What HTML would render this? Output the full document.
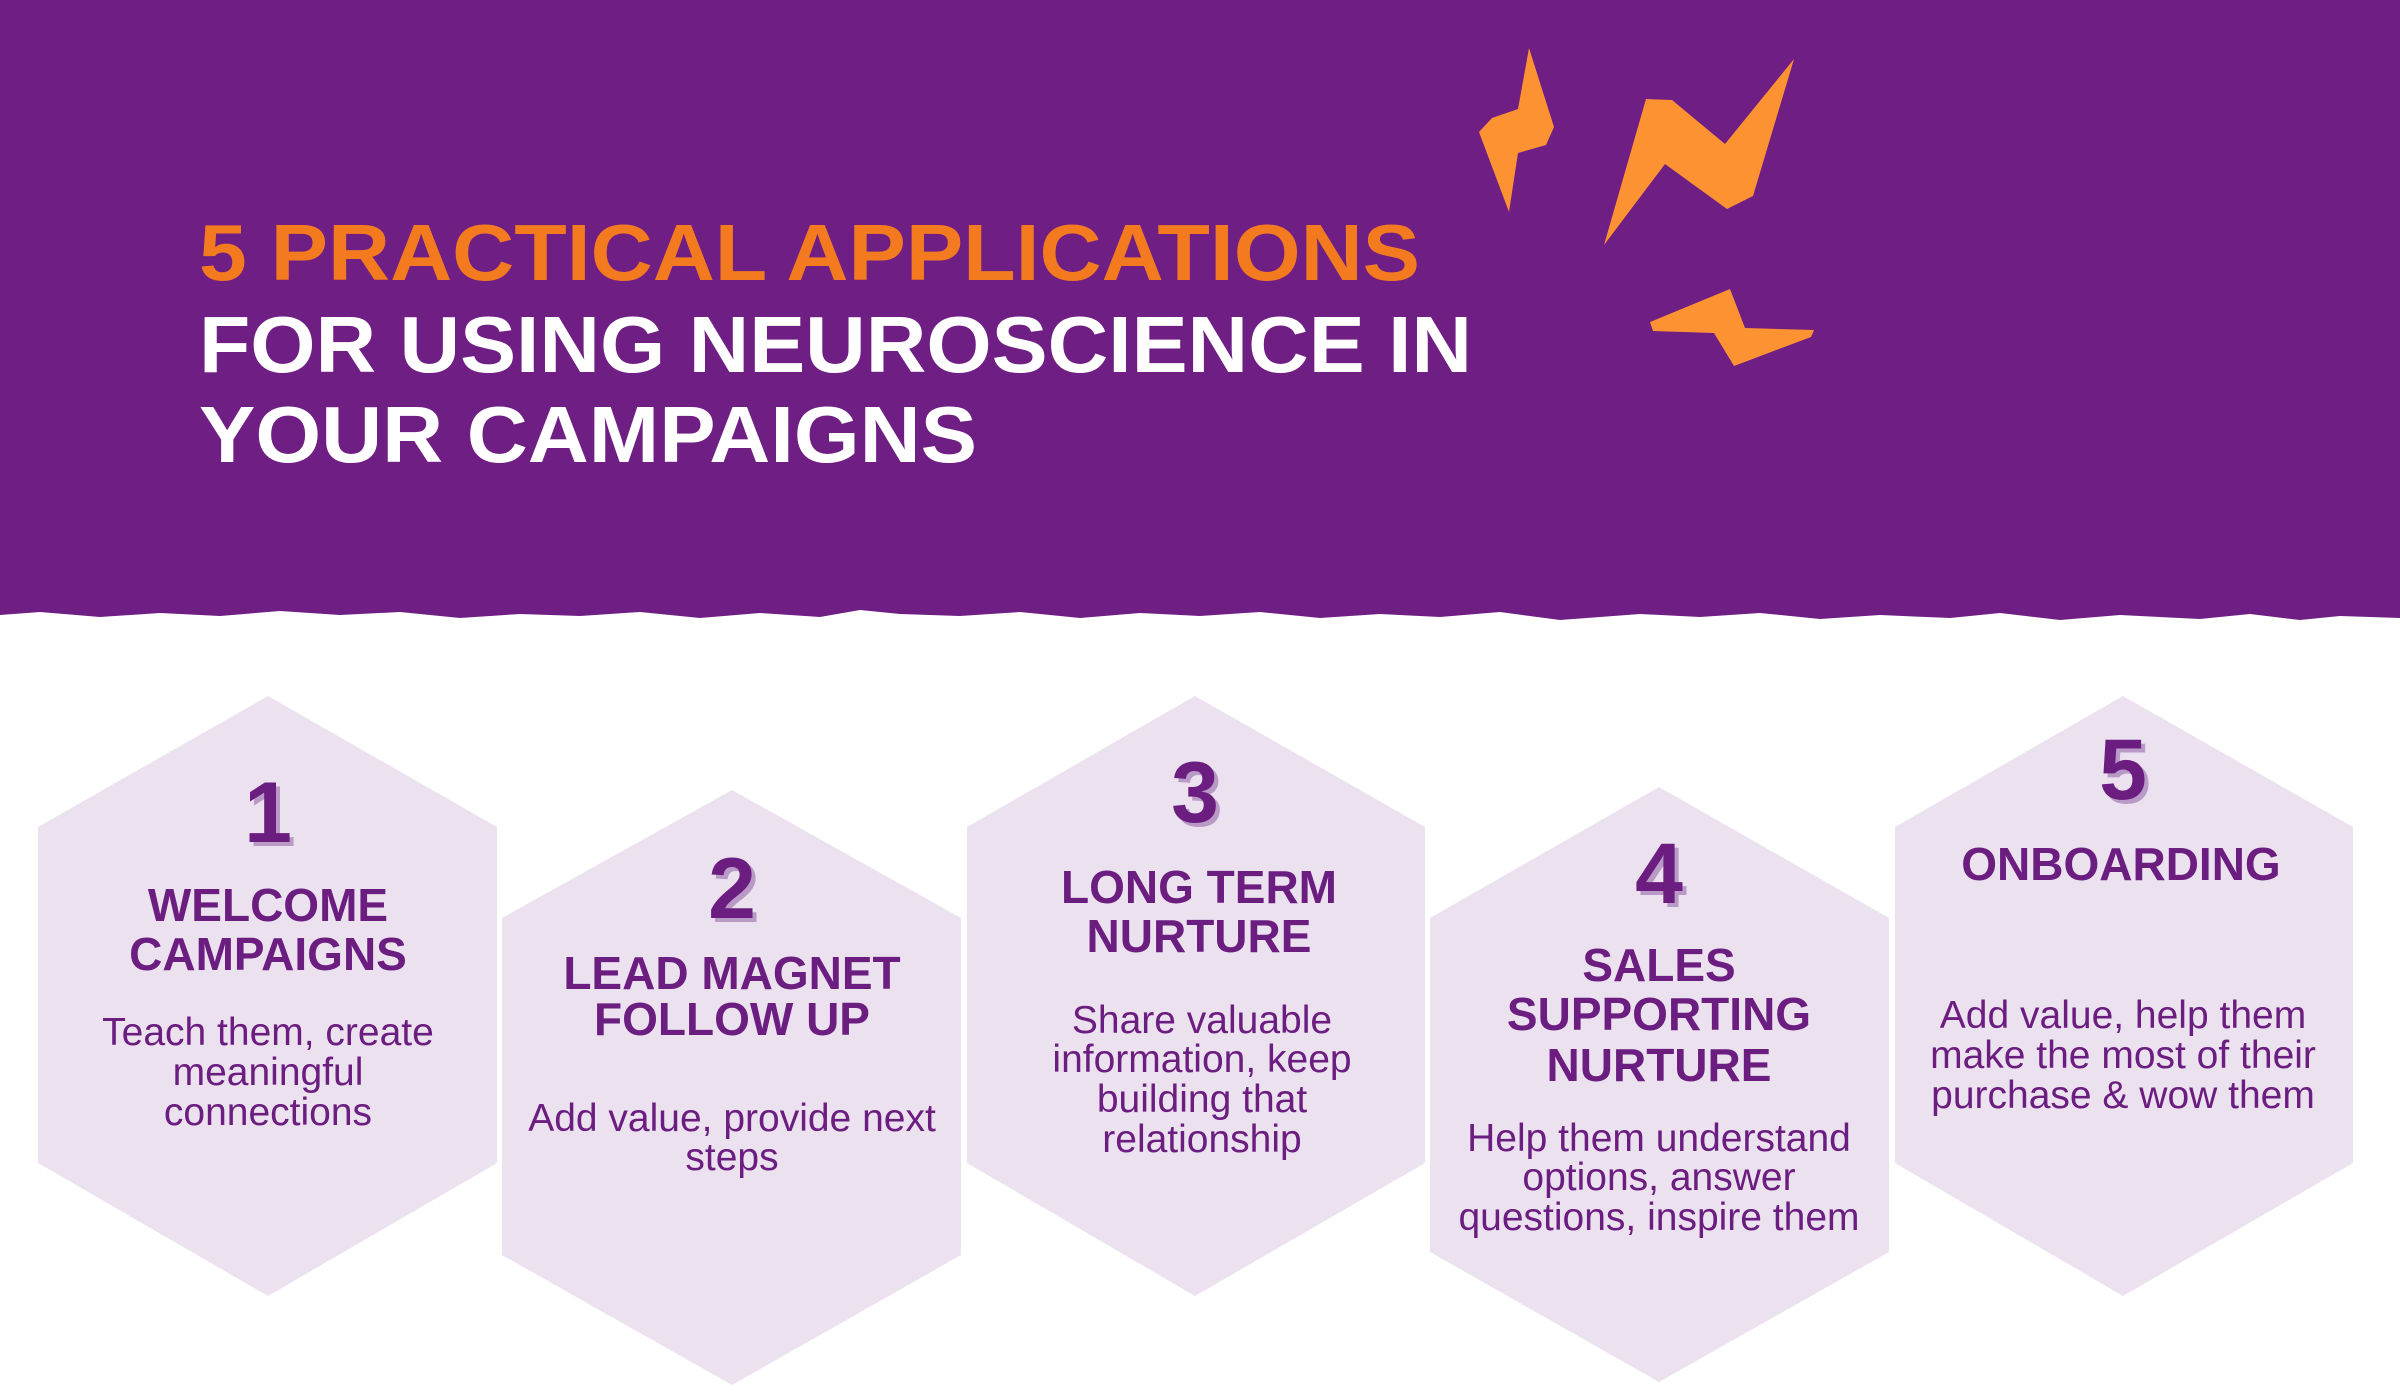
<!DOCTYPE html>
<html><head><meta charset="utf-8"><style>
html,body{margin:0;padding:0;background:#fff;}
svg{display:block;}
.t{font-family:"Liberation Sans",sans-serif;font-weight:bold;}
.h{font-family:"Liberation Sans",sans-serif;font-weight:bold;fill:#6b1d80;font-size:46px;text-anchor:middle;}
.b{font-family:"Liberation Sans",sans-serif;fill:#6b1d80;font-size:39px;text-anchor:middle;}
.n{font-family:"Liberation Sans",sans-serif;font-weight:900;font-size:86px;text-anchor:middle;}
</style></head><body>
<svg width="2400" height="1400" viewBox="0 0 2400 1400" xmlns="http://www.w3.org/2000/svg">
<rect width="2400" height="1400" fill="#fff"/>
<path d="M0 0H2400V618L2340 616 2300 620 2250 614 2200 619 2120 615 2060 620 2000 613 1950 618 1880 615 1820 619 1760 613 1700 617 1640 614 1560 620 1500 612 1440 617 1380 614 1320 618 1260 612 1200 616 1140 613 1080 618 1020 612 960 616 900 614 860 610 820 617 760 613 700 618 640 612 580 616 520 614 460 618 400 612 340 615 280 611 220 616 160 613 100 617 40 612 0 615Z" fill="#6f1e84"/>
<g fill="#6f1e84">
<rect x="860" y="575" width="6" height="4"/><rect x="745" y="578" width="12" height="3"/><rect x="800" y="584" width="8" height="3"/><rect x="2345" y="577" width="20" height="3"/>
</g>
<g fill="#fd9233">
<path d="M1529 48 L1554 127 L1546 145 L1518 153 L1509 212 L1479 132 L1492 118 L1518 109 Z"/>
<path d="M1794 59 L1753 196 L1727 209 L1665 164 L1604 245 L1646 99 L1672 100 L1725 144 Z"/>
<path d="M1730 289 L1745 328 L1814 330 L1811 337 L1734 366 L1714 333 L1653 331 L1650 322 Z"/>
</g>
<text class="t" x="199" y="280" font-size="80" fill="#f47a1f" textLength="1221" lengthAdjust="spacingAndGlyphs">5 PRACTICAL APPLICATIONS</text>
<text class="t" x="199" y="372" font-size="80" fill="#fff" textLength="1273" lengthAdjust="spacingAndGlyphs">FOR USING NEUROSCIENCE IN</text>
<text class="t" x="199" y="462" font-size="80" fill="#fff" textLength="778" lengthAdjust="spacingAndGlyphs">YOUR CAMPAIGNS</text>
<g fill="#ebe1ef">
<polygon points="268,696 497,827 497,1163 268,1296 38,1163 38,827"/>
<polygon points="732,790 961,918 961,1255 732,1385 502,1255 502,918"/>
<polygon points="1195,696 1425,827 1425,1163 1195,1296 967,1163 967,827"/>
<polygon points="1659,787 1889,918 1889,1252 1659,1382 1430,1252 1430,918"/>
<polygon points="2123,696 2353,827 2353,1163 2123,1296 1895,1163 1895,827"/>
</g>
<g>
<text class="n" x="272" y="846" fill="#b99ac6">1</text><text class="n" x="268" y="842" fill="#6b1d80">1</text>
<text class="n" x="736" y="922" fill="#b99ac6">2</text><text class="n" x="732" y="918" fill="#6b1d80">2</text>
<text class="n" x="1199" y="826" fill="#b99ac6">3</text><text class="n" x="1195" y="822" fill="#6b1d80">3</text>
<text class="n" x="1663" y="907" fill="#b99ac6">4</text><text class="n" x="1659" y="903" fill="#6b1d80">4</text>
<text class="n" x="2127" y="803" fill="#b99ac6">5</text><text class="n" x="2123" y="799" fill="#6b1d80">5</text>
</g>
<text class="h" x="268" y="921">WELCOME</text><text class="h" x="268" y="970">CAMPAIGNS</text>
<text class="h" x="732" y="989">LEAD MAGNET</text><text class="h" x="732" y="1035">FOLLOW UP</text>
<text class="h" x="1199" y="903">LONG TERM</text><text class="h" x="1199" y="952">NURTURE</text>
<text class="h" x="1659" y="981">SALES</text><text class="h" x="1659" y="1030">SUPPORTING</text><text class="h" x="1659" y="1081">NURTURE</text>
<text class="h" x="2121" y="880">ONBOARDING</text>
<text class="b" x="268" y="1045">Teach them, create</text><text class="b" x="268" y="1085">meaningful</text><text class="b" x="268" y="1125">connections</text>
<text class="b" x="732" y="1131">Add value, provide next</text><text class="b" x="732" y="1170">steps</text>
<text class="b" x="1202" y="1033">Share valuable</text><text class="b" x="1202" y="1072">information, keep</text><text class="b" x="1202" y="1112">building that</text><text class="b" x="1202" y="1152">relationship</text>
<text class="b" x="1659" y="1151">Help them understand</text><text class="b" x="1659" y="1190">options, answer</text><text class="b" x="1659" y="1230">questions, inspire them</text>
<text class="b" x="2123" y="1028">Add value, help them</text><text class="b" x="2123" y="1068">make the most of their</text><text class="b" x="2123" y="1108">purchase &amp; wow them</text>
</svg>
</body></html>
